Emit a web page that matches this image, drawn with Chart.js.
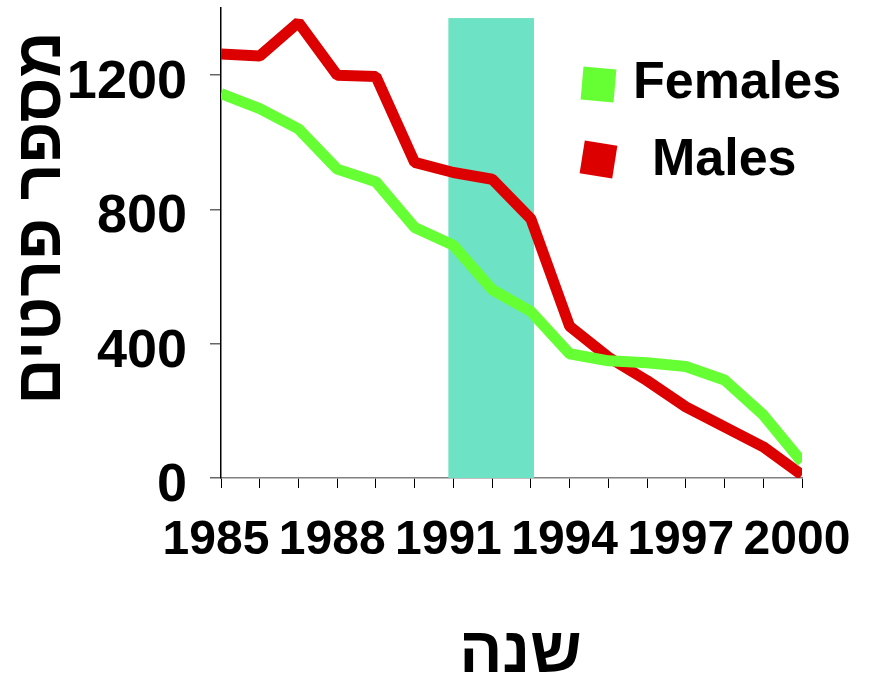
<!DOCTYPE html>
<html>
<head>
<meta charset="utf-8">
<script src="https://cdn.jsdelivr.net/npm/chart.js@4"></script>
<style>
  html, body { margin: 0; padding: 0; background: #fff; }
  #wrap { width: 881px; height: 676px; position: relative; }
</style>
</head>
<body>
<div id="wrap"><canvas id="c" width="881" height="676"></canvas></div>
<script>
// ---- data ----
const years = [1985,1986,1987,1988,1989,1990,1991,1992,1993,1994,1995,1996,1997,1998,1999,2000];
const females = [1145,1100,1040,920,882,746,693,561,496,370,349,343,332,292,188,48];
const males = [1263,1257,1357,1200,1196,940,910,890,772,452,360,290,212,152,93,9];
const seriesLabels = ['Females', 'Males'];
const yTickLabels = [0, 400, 800, 1200];
const xTickLabels = [1985, 1988, 1991, 1994, 1997, 2000];
const bandRange = [1990.87, 1993.08];
const bandTop = [1370];
const yTitle = 'מספר פרטים';
const xTitle = 'שנה';

const FONT = "'Liberation Sans', Arial, sans-serif";

const bandPlugin = {
  id: 'band',
  beforeDatasetsDraw(chart) {
    const {ctx, scales: {x, y}} = chart;
    const x0 = x.getPixelForValue(bandRange[0]);
    const x1 = x.getPixelForValue(bandRange[1]);
    const y0 = y.getPixelForValue(bandTop[0]);
    const y1 = y.getPixelForValue(0);
    ctx.save();
    ctx.fillStyle = '#6DE2C4';
    ctx.fillRect(x0, y0, x1 - x0, y1 - y0);
    ctx.restore();
  }
};

// axis titles, placed a little off-centre as in the original slide
const axisTitlePlugin = {
  id: 'axisTitles',
  afterDraw(chart) {
    const {ctx, scales: {x, y}} = chart;
    ctx.save();
    ctx.fillStyle = '#000';
    ctx.font = "bold 64px " + FONT;
    ctx.textAlign = 'center';
    ctx.textBaseline = 'middle';
    // y title, rotated
    ctx.save();
    ctx.translate(y.left + 42, (y.top + y.bottom) / 2 - 25);
    ctx.rotate(-Math.PI / 2);
    ctx.fillText(yTitle, 0, 0);
    ctx.restore();
    // x title
    ctx.fillText(xTitle, (x.left + x.right) / 2 + 9, x.bottom - 22);
    ctx.restore();
  }
};

const legendPlugin = {
  id: 'customLegend',
  afterDraw(chart) {
    const {ctx} = chart;
    const items = [
      {ds: chart.data.datasets[0], cx: 598.5, cy: 84.5, rot: 5 * Math.PI / 180, tx: 633, ty: 98},
      {ds: chart.data.datasets[1], cx: 598.5, cy: 159.5, rot: 9 * Math.PI / 180, tx: 652, ty: 175}
    ];
    ctx.save();
    items.forEach(it => {
      ctx.save();
      ctx.translate(it.cx, it.cy);
      ctx.rotate(it.rot);
      ctx.fillStyle = it.ds.borderColor;
      ctx.fillRect(-16.5, -16.5, 33, 33);
      ctx.restore();
      ctx.fillStyle = '#000';
      ctx.font = "bold 52px " + FONT;
      ctx.textBaseline = 'alphabetic';
      ctx.textAlign = 'left';
      ctx.fillText(it.ds.label, it.tx, it.ty);
    });
    ctx.restore();
  }
};

new Chart(document.getElementById('c'), {
  type: 'line',
  data: {
    labels: years,
    datasets: [
      {
        label: seriesLabels[0],
        data: years.map((yr, i) => ({x: yr, y: females[i]})),
        borderColor: '#66FF33',
        backgroundColor: '#66FF33',
        borderWidth: 11,
        pointRadius: 0,
        tension: 0,
        borderJoinStyle: 'bevel',
        borderCapStyle: 'butt'
      },
      {
        label: seriesLabels[1],
        data: years.map((yr, i) => ({x: yr, y: males[i]})),
        borderColor: '#DD0000',
        backgroundColor: '#DD0000',
        borderWidth: 11,
        pointRadius: 0,
        tension: 0,
        borderJoinStyle: 'bevel',
        borderCapStyle: 'butt'
      }
    ]
  },
  options: {
    responsive: false,
    animation: false,
    events: [],
    layout: { padding: { left: 0, right: 79, top: 8, bottom: 0 } },
    plugins: {
      legend: { display: false },
      tooltip: { enabled: false }
    },
    scales: {
      x: {
        type: 'linear',
        min: 1985,
        max: 2000,
        afterFit(scale) { scale.height = 198; scale.paddingLeft = 0; scale.paddingRight = 0; },
        afterBuildTicks(scale) {
          scale.ticks = years.map(v => ({value: v}));
        },
        border: { display: true, color: '#808080', width: 1.5 },
        grid: { drawOnChartArea: false, drawTicks: true, tickLength: 10, color: '#000', lineWidth: 1 },
        ticks: {
          autoSkip: false,
          maxRotation: 0,
          padding: 24,
          labelOffset: -5,
          color: '#000',
          font: { family: FONT, size: 48, weight: 'bold' },
          callback: (v) => xTickLabels.includes(v) ? String(v) : ''
        },
        title: { display: false, text: xTitle }
      },
      y: {
        min: 0,
        max: 1400,
        afterFit(scale) { scale.width = 221; scale.paddingTop = 0; scale.paddingBottom = 0; },
        border: { display: true, color: '#000', width: 1.5 },
        grid: { drawOnChartArea: false, drawTicks: true, tickLength: 11, color: '#666', lineWidth: 1.5 },
        ticks: {
          stepSize: 200,
          padding: 23,
          labelOffset: 8,
          color: '#000',
          font: { family: FONT, size: 54, weight: 'bold' },
          callback: (v) => yTickLabels.includes(v) ? String(v) : ''
        },
        title: { display: false, text: yTitle }
      }
    }
  },
  plugins: [bandPlugin, axisTitlePlugin, legendPlugin]
});
</script>
</body>
</html>
